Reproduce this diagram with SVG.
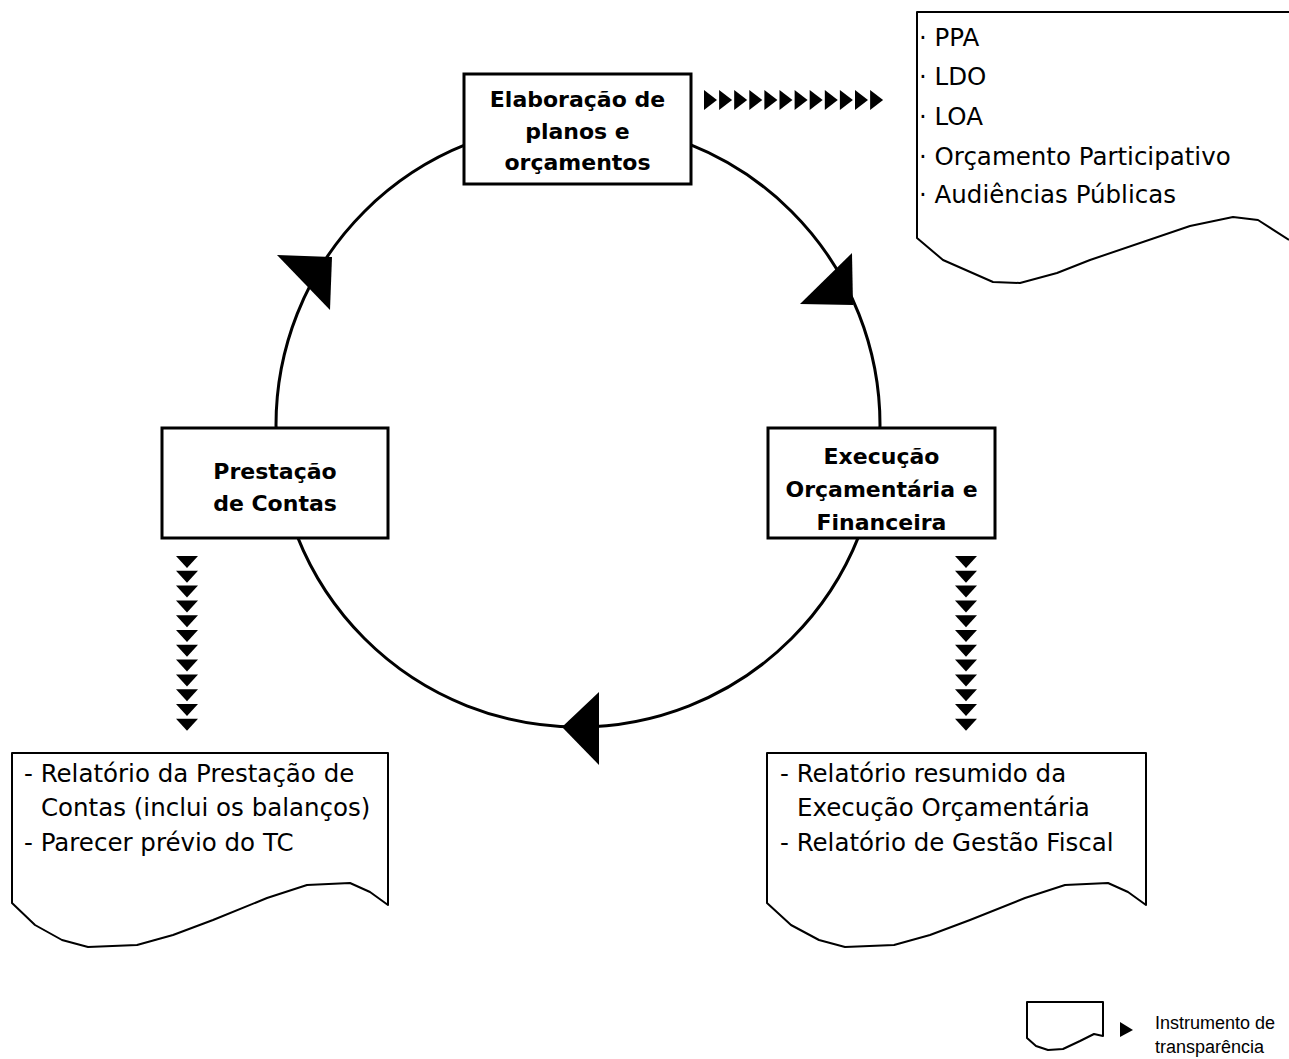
<svg xmlns="http://www.w3.org/2000/svg" width="1289" height="1059" viewBox="0 0 1289 1059">
<style>
.box{fill:#fff;stroke:#000;stroke-width:3}
.doc{fill:none;stroke:#000;stroke-width:2;stroke-linejoin:round}
.bt{font-family:"DejaVu Sans",sans-serif;font-weight:bold;font-size:22px;text-anchor:middle;fill:#000}
.dt{font-family:"DejaVu Sans",sans-serif;font-size:24.5px;fill:#000}
.lt{font-family:"Liberation Sans",Arial,sans-serif;font-size:18px;fill:#000}
.tri{fill:#000}
</style>
<defs>
<polygon id="tr" points="0,-10 13,0 0,10"/>
<polygon id="td" points="-11,0 11,0 0,12"/>
</defs>
<rect width="1289" height="1059" fill="#fff"/>
<g id="connectors">
<circle cx="578" cy="425" r="302" fill="none" stroke="#000" stroke-width="3"/>
<polygon class="tri" points="277,255 332,257 330,310"/>
<polygon class="tri" points="852,253 853,305 800,304"/>
<polygon class="tri" points="562,727 599,692 599,765"/>
<g id="chain-top" class="tri">
<use href="#tr" x="704" y="100"/><use href="#tr" x="719.1" y="100"/><use href="#tr" x="734.2" y="100"/><use href="#tr" x="749.3" y="100"/><use href="#tr" x="764.4" y="100"/><use href="#tr" x="779.5" y="100"/><use href="#tr" x="794.6" y="100"/><use href="#tr" x="809.7" y="100"/><use href="#tr" x="824.8" y="100"/><use href="#tr" x="839.9" y="100"/><use href="#tr" x="855" y="100"/><use href="#tr" x="870.1" y="100"/>
</g>
<g id="chain-left" class="tri">
<use href="#td" x="187" y="556"/><use href="#td" x="187" y="570.8"/><use href="#td" x="187" y="585.6"/><use href="#td" x="187" y="600.4"/><use href="#td" x="187" y="615.2"/><use href="#td" x="187" y="630"/><use href="#td" x="187" y="644.8"/><use href="#td" x="187" y="659.6"/><use href="#td" x="187" y="674.4"/><use href="#td" x="187" y="689.2"/><use href="#td" x="187" y="704"/><use href="#td" x="187" y="718.8"/>
</g>
<g id="chain-right" class="tri">
<use href="#td" x="966" y="556"/><use href="#td" x="966" y="570.8"/><use href="#td" x="966" y="585.6"/><use href="#td" x="966" y="600.4"/><use href="#td" x="966" y="615.2"/><use href="#td" x="966" y="630"/><use href="#td" x="966" y="644.8"/><use href="#td" x="966" y="659.6"/><use href="#td" x="966" y="674.4"/><use href="#td" x="966" y="689.2"/><use href="#td" x="966" y="704"/><use href="#td" x="966" y="718.8"/>
</g>
</g>
<g id="node-elaboracao">
<rect class="box" x="464" y="74" width="227" height="110"/>
<text class="bt" x="577.5" y="107">Elaboração de</text>
<text class="bt" x="577.5" y="139">planos e</text>
<text class="bt" x="577.5" y="170">orçamentos</text>
</g>
<g id="node-prestacao">
<rect class="box" x="162" y="428" width="226" height="110"/>
<text class="bt" x="275" y="479">Prestação</text>
<text class="bt" x="275" y="511">de Contas</text>
</g>
<g id="node-execucao">
<rect class="box" x="768" y="428" width="227" height="110"/>
<text class="bt" x="881.5" y="464">Execução</text>
<text class="bt" x="881.5" y="497">Orçamentária e</text>
<text class="bt" x="881.5" y="530">Financeira</text>
</g>
<g id="doc-planos">
<path class="doc" d="M1295,12 H917 V238 L943,260 L993,282 L1020,283 L1057,273 L1090,260 L1190,226 L1233,217 L1258,220 L1289,240"/>
<text class="dt" x="919" y="46">· PPA</text>
<text class="dt" x="919" y="85">· LDO</text>
<text class="dt" x="919" y="125">· LOA</text>
<text class="dt" x="919" y="165">· Orçamento Participativo</text>
<text class="dt" x="919" y="203">· Audiências Públicas</text>
</g>
<g id="doc-prestacao">
<path class="doc" d="M12,903 V753 H388 V905 L370,892 L350,883 L307,885 L267,898 L213,920 L173,935 L137,945 L88,947 L62,940 L35,925 Z"/>
<text class="dt" x="24" y="782">- Relatório da Prestação de</text>
<text class="dt" x="41" y="816">Contas (inclui os balanços)</text>
<text class="dt" x="24" y="851">- Parecer prévio do TC</text>
</g>
<g id="doc-execucao">
<path class="doc" d="M767,903 V753 H1146 V905 L1128,892 L1108,883 L1065,885 L1025,898 L970,920 L930,935 L894,945 L845,947 L819,940 L791,925 Z"/>
<text class="dt" x="780" y="782">- Relatório resumido da</text>
<text class="dt" x="797" y="816">Execução Orçamentária</text>
<text class="dt" x="780" y="851">- Relatório de Gestão Fiscal</text>
</g>
<g id="legend">
<path class="doc" d="M1027,1038 V1002 H1103 V1036 L1094,1034 L1080,1041 L1063,1049 L1048,1050 L1036,1046 Z"/>
<polygon class="tri" points="1120,1022 1133,1030 1120,1037"/>
<text class="lt" x="1155" y="1029">Instrumento de</text>
<text class="lt" x="1155" y="1053">transparência</text>
</g>
</svg>
